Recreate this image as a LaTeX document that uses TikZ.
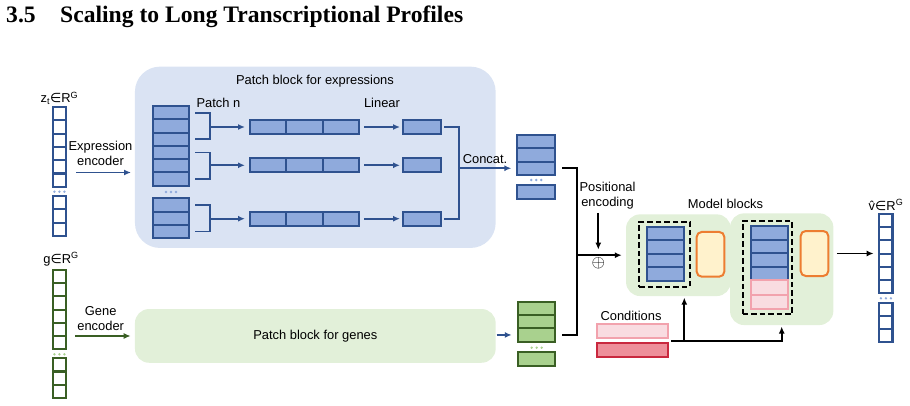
\documentclass[tikz,border=0pt]{standalone}
\usepackage{fontspec}
\setmainfont{Liberation Sans}
\newfontfamily\titlefont{Liberation Serif}
\newfontfamily\symfont{DejaVu Sans}
\usetikzlibrary{arrows.meta,positioning,calc}
\definecolor{dblue}{HTML}{2F528F}
\definecolor{mblue}{HTML}{8FAADC}
\definecolor{lblue}{HTML}{DAE3F3}
\definecolor{dgreen}{HTML}{3A5F24}
\definecolor{lgreen}{HTML}{A9D18E}
\definecolor{bggreen}{HTML}{E2F0D9}
\definecolor{ofill}{HTML}{FFF2CC}
\definecolor{obord}{HTML}{ED7D31}
\definecolor{pinkf}{HTML}{F9DCE1}
\definecolor{pinkb}{HTML}{F2A2AD}
\definecolor{redf}{HTML}{EE8F9A}
\definecolor{redb}{HTML}{C9283E}
\begin{document}
\begin{tikzpicture}[x=1pt,y=-1pt,>={Latex[length=7pt,width=6pt]},
  font=\fontsize{12.9}{15.5}\selectfont,
  vcell/.style={draw=#1,fill=white,line width=2.1pt,inner sep=0,outer sep=0,minimum size=13.3pt},
  pcell/.style={draw=dblue,fill=mblue,line width=2pt,inner sep=0,outer sep=0,minimum height=13.3pt},
  gcell/.style={pcell,draw=dgreen,fill=lgreen},
  panel/.style={rounded corners=#1,inner sep=0,outer sep=0},
  arr/.style={->,line width=1.8pt},
  bkt/.style={line width=1.8pt},
  dashbox/.style={draw,line width=2.1pt,dash pattern=on 5.5pt off 3pt,inner sep=0,outer sep=0}]
\useasboundingbox (0,0) rectangle (910,406);
\node[anchor=base west,inner sep=0,font=\titlefont\bfseries\fontsize{23.6}{28}\selectfont] (num) at (6,22.7){3.5};
\node[anchor=base west,inner sep=0,font=\titlefont\bfseries\fontsize{23.6}{28}\selectfont] (ttl) at (60,22.7){Scaling to Long Transcriptional Profiles};
% panels
\node[panel=25pt,fill=lblue,minimum width=360.7pt,minimum height=181.3pt] (pbe) at (315.3,157.3){};
\node (pbet) at (315,80.7){Patch block for expressions};
\node[panel=14pt,fill=bggreen,minimum width=360.7pt,minimum height=53.7pt] (pbg) at (315.3,335.9){Patch block for genes};
\node[panel=14pt,fill=bggreen,minimum width=104.7pt,minimum height=81.7pt] (mb1) at (678.4,255.2){};
\node[panel=14pt,fill=bggreen,minimum width=103.3pt,minimum height=111.7pt] (mb2) at (781.7,269.2){};
\node (mbt) at (725.5,204.3){Model blocks};
% input vectors
\node (zl) at (59.5,98){z\textsubscript{t}{\symfont ∈}R\textsuperscript{G}};
\foreach \i in {1,...,6}{\node[vcell=dblue] (z\i) at (59.4,{100.35+13.3*\i}){};}
\foreach \i in {7,8,9}{\node[vcell=dblue] (z\i) at (59.4,{109.55+13.3*\i}){};}
\foreach \d in {-5,0,5}\fill[mblue] (59.4+\d,191.7) circle (1.3pt);
\node (gl) at (61,259.3){g{\symfont ∈}R\textsuperscript{G}};
\foreach \i in {1,...,6}{\node[vcell=dgreen,minimum size=13.2pt] (g\i) at (59.4,{263.4+13.2*\i}){};}
\foreach \i in {7,8,9}{\node[vcell=dgreen,minimum size=13.2pt] (g\i) at (59.4,{272.5+13.2*\i}){};}
\foreach \d in {-5,0,5}\fill[lgreen] (59.4+\d,354.3) circle (1.3pt);
\node (vl) at (886,205){\^{v}{\symfont ∈}R\textsuperscript{G}};
\foreach \i in {1,...,6}{\node[vcell=dblue,minimum size=13.2pt] (v\i) at (885.9,{207.4+13.2*\i}){};}
\foreach \i in {7,8,9}{\node[vcell=dblue,minimum size=13.2pt] (v\i) at (885.9,{216.9+13.2*\i}){};}
\foreach \d in {-5,0,5}\fill[mblue] (885.9+\d,298.3) circle (1.3pt);
% patch block for expressions
\foreach \i in {1,...,6}{\node[pcell,minimum width=36.6pt] (ps\i) at (171,{99.35+13.3*\i}){};}
\foreach \i in {7,8,9}{\node[pcell,minimum width=36.6pt] (ps\i) at (171,{111.85+13.3*\i}){};}
\foreach \d in {-5,0,5}\fill[mblue] (171+\d,192) circle (1.3pt);
\node (pn) at (218.4,102.7){Patch n};
\node (lin) at (382,102.7){Linear};
\foreach \r/\y in {1/127,2/165.3,3/218.7}{
  \node[pcell,minimum width=36.4pt,minimum height=14pt] (row\r-1) at (268.2,\y){};
  \node[pcell,minimum width=36.4pt,minimum height=14pt,right=0pt of row\r-1] (row\r-2){};
  \node[pcell,minimum width=36.4pt,minimum height=14pt,right=0pt of row\r-2] (row\r-3){};
  \node[pcell,minimum width=38pt,minimum height=14pt] (l\r) at (421.7,\y){};
  \draw[arr,dblue,shorten <=4.8pt,shorten >=2.7pt] (row\r-3) -- (l\r);
}
\foreach \r/\a/\b in {1/1/3,2/4/6,3/7/9}{
  \draw[bkt,dblue] ([xshift=6pt]ps\a.east) -- ++(15,0) coordinate (k\r) |- ([xshift=6pt]ps\b.east);
  \draw[arr,dblue,shorten >=5pt] (k\r |- row\r-1) -- (row\r-1.west);
}
% encoders
\node[align=center] (ee) at (100.5,153.5){Expression\\encoder};
\draw[arr,dblue,shorten <=10pt,shorten >=21.7pt] (z5.east |- ps5.south) -- (ps5.south west);
\node[align=center] (ge) at (100.7,318.5){Gene\\encoder};
\draw[arr,dgreen,shorten <=9pt,shorten >=4.3pt] (g5.south east) -- (g5.south east -| pbg.west);
% concat
\foreach \i in {1,2,3}{\node[pcell,minimum width=37.7pt] (ct\i) at (536.2,{128.35+13.3*\i}){};}
\node[pcell,minimum width=37.7pt,minimum height=14pt] (ct4) at (536.2,191.7){};
\foreach \d in {-5,0,5}\fill[mblue] (536.2+\d,180) circle (1.3pt);
\draw[bkt,dblue] ([xshift=3.7pt]l1.east) -- ++(14.6,0) coordinate (cc) |- ([xshift=3.7pt]l3.east);
\node (cct) at (485,158.7){Concat.};
\draw[arr,dblue,shorten >=6pt] (cc |- ct3) -- (ct3.west);
% gene patches
\foreach \i in {1,2,3}{\node[gcell,minimum width=36.7pt] (gs\i) at (536.7,{295.05+13.3*\i}){};}
\node[gcell,minimum width=36.7pt,minimum height=14pt] (gs4) at (536.7,358.8){};
\foreach \d in {-5,0,5}\fill[lgreen] (536.7+\d,347.7) circle (1.3pt);
\draw[arr,dblue,shorten <=1pt,shorten >=6.6pt] (pbg.east |- gs3) -- (gs3.west);
% merge and positional encoding
\draw[bkt] ([xshift=7pt]ct3.east) -- ++(14.7,0) coordinate (m) |- ([xshift=7pt]gs3.east);
\node[font=\fontsize{17}{17}\selectfont] (pl) at (598.3,263.3){$\oplus$};
\draw[arr,shorten >=4.3pt] (m |- mb1) -- (mb1.west);
\node[align=center] (pe) at (607.5,195.5){Positional\\encoding};
\draw[arr,shorten >=5.5pt] (pe.south -| pl) -- (pl |- mb1);
% model blocks
\node[dashbox,minimum width=50.7pt,minimum height=65pt] (d1) at (664.7,254.2){};
\node[dashbox,minimum width=49.6pt,minimum height=93pt] (d2) at (767.5,267.5){};
\foreach \i in {1,...,4}{
  \node[pcell,minimum width=37.6pt,minimum height=13.5pt] (b\i) at (665.5,{219.95+13.5*\i}){};
  \node[pcell,minimum width=37pt,minimum height=13.5pt] (c\i) at (769.2,{219.25+13.5*\i}){};
}
\foreach \i/\y in {5/287.25,6/301.75}{\node[pcell,draw=pinkb,fill=pinkf,minimum width=37pt,minimum height=14.5pt] (c\i) at (769.2,\y){};}
\node[panel=5pt,draw=obord,fill=ofill,line width=2pt,minimum width=27.6pt,minimum height=44.7pt] (o1) at (710.5,254.3){};
\node[panel=5pt,draw=obord,fill=ofill,line width=2pt,minimum width=27.6pt,minimum height=45pt] (o2) at (814.5,253.5){};
\draw[arr,shorten <=3.4pt,shorten >=5.7pt] (mb2.east |- o2) -- (v1.west |- o2);
% conditions
\node (cdt) at (631,315.7){Conditions};
\node[draw=pinkb,fill=pinkf,line width=2pt,inner sep=0,minimum width=71.6pt,minimum height=14pt] (cd1) at (632.5,331.3){};
\node[draw=redb,fill=redf,line width=2pt,inner sep=0,minimum width=71.6pt,minimum height=13.4pt] (cd2) at (632.5,350){};
\coordinate (cj) at ($(cd1.south east)!.5!(cd2.north east)$);
\draw[arr,shorten <=1.7pt,shorten >=1.5pt] (cj) -| (mb2.south);
\draw[arr,shorten >=1.5pt] (cj -| b4.east) -- (b4.east |- mb1.south);
\end{tikzpicture}
\end{document}
